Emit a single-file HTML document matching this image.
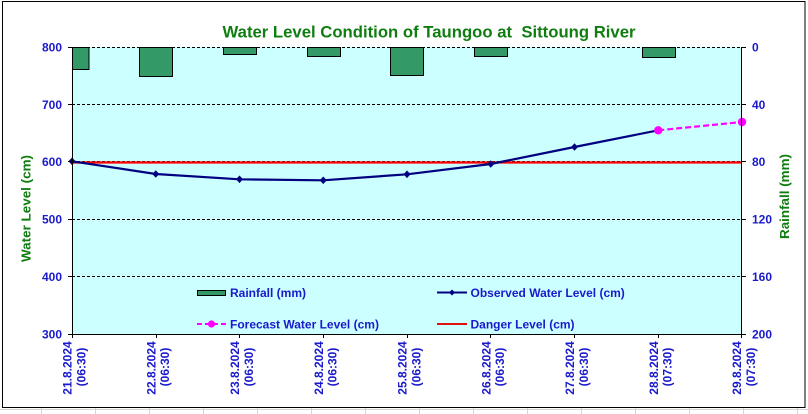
<!DOCTYPE html>
<html>
<head>
<meta charset="utf-8">
<style>
  html,body{margin:0;padding:0;background:#fff;}
  body{width:808px;height:414px;overflow:hidden;}
  svg{display:block;}
  text{font-family:"Liberation Sans",Arial,sans-serif;font-weight:bold;}
  .pre{white-space:pre;}
</style>
</head>
<body>
<svg width="808" height="414" viewBox="0 0 808 414" xmlns="http://www.w3.org/2000/svg">
  <!-- faint spreadsheet gridlines outside chart -->
  <g stroke="#d4d4d4" stroke-width="1">
    <line x1="0" y1="409.5" x2="808" y2="409.5"/>
    <line x1="41.5" y1="408" x2="41.5" y2="414"/>
    <line x1="95.5" y1="408" x2="95.5" y2="414"/>
    <line x1="149.5" y1="408" x2="149.5" y2="414"/>
    <line x1="203.5" y1="408" x2="203.5" y2="414"/>
    <line x1="257.5" y1="408" x2="257.5" y2="414"/>
    <line x1="311.5" y1="408" x2="311.5" y2="414"/>
    <line x1="365.5" y1="408" x2="365.5" y2="414"/>
    <line x1="419.5" y1="408" x2="419.5" y2="414"/>
    <line x1="473.5" y1="408" x2="473.5" y2="414"/>
    <line x1="527.5" y1="408" x2="527.5" y2="414"/>
    <line x1="581.5" y1="408" x2="581.5" y2="414"/>
    <line x1="635.5" y1="408" x2="635.5" y2="414"/>
    <line x1="689.5" y1="408" x2="689.5" y2="414"/>
    <line x1="743.5" y1="408" x2="743.5" y2="414"/>
    <line x1="797.5" y1="408" x2="797.5" y2="414"/>
  </g>

  <!-- chart border -->
  <rect x="2.5" y="1.5" width="802.5" height="406" fill="#fff" stroke="#000" stroke-width="1"/>

  <!-- title -->
  <text class="pre" xml:space="preserve" x="222.5" y="37.6" font-size="16.5" fill="#0f7d0f" textLength="413" lengthAdjust="spacingAndGlyphs">Water Level Condition of Taungoo at &#160;Sittoung River</text>

  <!-- plot area -->
  <rect x="72" y="47" width="670" height="287" fill="#ccffff"/>

  <!-- gridlines -->
  <g stroke="#000" stroke-width="1" stroke-dasharray="3,2">
    <line x1="72" y1="47.5" x2="742" y2="47.5"/>
    <line x1="72" y1="104.5" x2="742" y2="104.5"/>
    <line x1="72" y1="161.5" x2="742" y2="161.5"/>
    <line x1="72" y1="219.5" x2="742" y2="219.5"/>
    <line x1="72" y1="276.5" x2="742" y2="276.5"/>
  </g>

  <!-- rainfall bars -->
  <g fill="#339966" stroke="#000" stroke-width="1">
    <rect x="72.5" y="47.5" width="16.5" height="22"/>
    <rect x="139.5" y="47.5" width="33" height="29"/>
    <rect x="223.5" y="47.5" width="33" height="7"/>
    <rect x="307.5" y="47.5" width="33" height="9"/>
    <rect x="390.5" y="47.5" width="33" height="28"/>
    <rect x="474.5" y="47.5" width="33" height="9"/>
    <rect x="642.5" y="47.5" width="33" height="10"/>
  </g>

  <!-- danger level -->
  <line x1="72" y1="162.5" x2="742" y2="162.5" stroke="#ff0000" stroke-width="2.2"/>

  <!-- observed water level -->
  <polyline fill="none" stroke="#000080" stroke-width="2.2" stroke-linejoin="round"
    points="72,161.3 155.75,174 239.5,179.3 323.25,180.3 407,174.3 490.75,164 574.5,147 658.25,130.3"/>
  <g fill="#000080">
    <path d="M72,157.5 L75.5,161.3 L72,165.1 L68.5,161.3Z"/>
    <path d="M155.75,170.2 L159.25,174 L155.75,177.8 L152.25,174Z"/>
    <path d="M239.5,175.5 L243,179.3 L239.5,183.1 L236,179.3Z"/>
    <path d="M323.25,176.5 L326.75,180.3 L323.25,184.1 L319.75,180.3Z"/>
    <path d="M407,170.5 L410.5,174.3 L407,178.1 L403.5,174.3Z"/>
    <path d="M490.75,160.2 L494.25,164 L490.75,167.8 L487.25,164Z"/>
    <path d="M574.5,143.2 L578,147 L574.5,150.8 L571,147Z"/>
  </g>

  <!-- forecast -->
  <line x1="658.25" y1="130.3" x2="742" y2="122" stroke="#ff00ff" stroke-width="2.2" stroke-dasharray="6,3"/>
  <circle cx="658.25" cy="130.3" r="4.2" fill="#ff00ff"/>
  <circle cx="742" cy="122" r="4.2" fill="#ff00ff"/>

  <!-- axes -->
  <g stroke="#000" stroke-width="1">
    <line x1="72.5" y1="47" x2="72.5" y2="334.5"/>
    <line x1="741.5" y1="47" x2="741.5" y2="334.5"/>
    <line x1="72" y1="334.5" x2="742" y2="334.5"/>
    <line x1="68" y1="47.5" x2="72" y2="47.5"/>
    <line x1="68" y1="104.5" x2="72" y2="104.5"/>
    <line x1="68" y1="161.5" x2="72" y2="161.5"/>
    <line x1="68" y1="219.5" x2="72" y2="219.5"/>
    <line x1="68" y1="276.5" x2="72" y2="276.5"/>
    <line x1="68" y1="334.5" x2="72" y2="334.5"/>
    <line x1="742" y1="47.5" x2="746" y2="47.5"/>
    <line x1="742" y1="104.5" x2="746" y2="104.5"/>
    <line x1="742" y1="161.5" x2="746" y2="161.5"/>
    <line x1="742" y1="219.5" x2="746" y2="219.5"/>
    <line x1="742" y1="276.5" x2="746" y2="276.5"/>
    <line x1="742" y1="334.5" x2="746" y2="334.5"/>
    <line x1="72.5" y1="334" x2="72.5" y2="338"/>
    <line x1="156.5" y1="334" x2="156.5" y2="338"/>
    <line x1="239.5" y1="334" x2="239.5" y2="338"/>
    <line x1="323.5" y1="334" x2="323.5" y2="338"/>
    <line x1="407.5" y1="334" x2="407.5" y2="338"/>
    <line x1="490.5" y1="334" x2="490.5" y2="338"/>
    <line x1="574.5" y1="334" x2="574.5" y2="338"/>
    <line x1="658.5" y1="334" x2="658.5" y2="338"/>
    <line x1="741.5" y1="334" x2="741.5" y2="338"/>
  </g>

  <!-- left axis labels -->
  <g font-size="12" fill="#1a1acc" text-anchor="end">
    <text x="62" y="51.5">800</text>
    <text x="62" y="108.8">700</text>
    <text x="62" y="166.2">600</text>
    <text x="62" y="223.6">500</text>
    <text x="62" y="281">400</text>
    <text x="62" y="338.4">300</text>
  </g>
  <!-- right axis labels -->
  <g font-size="12" fill="#1a1acc" text-anchor="start">
    <text x="752" y="51.5">0</text>
    <text x="752" y="108.8">40</text>
    <text x="752" y="166.2">80</text>
    <text x="752" y="223.6">120</text>
    <text x="752" y="281">160</text>
    <text x="752" y="338.4">200</text>
  </g>

  <!-- axis titles -->
  <text transform="translate(30.5,208.5) rotate(-90)" text-anchor="middle" font-size="13" fill="#0f7d0f" textLength="107" lengthAdjust="spacingAndGlyphs">Water Level (cm)</text>
  <text transform="translate(789,196.5) rotate(-90)" text-anchor="middle" font-size="13" fill="#0f7d0f" textLength="85" lengthAdjust="spacingAndGlyphs">Rainfall (mm)</text>

  <!-- x labels -->
  <g font-size="12" fill="#1a1acc" text-anchor="middle">
    <text transform="translate(71.7,368) rotate(-90)">21.8.2024</text>
    <text transform="translate(85.5,367) rotate(-90)">(06:30)</text>
    <text transform="translate(155.4,368) rotate(-90)">22.8.2024</text>
    <text transform="translate(169.2,367) rotate(-90)">(06:30)</text>
    <text transform="translate(239.1,368) rotate(-90)">23.8.2024</text>
    <text transform="translate(252.9,367) rotate(-90)">(06:30)</text>
    <text transform="translate(322.9,368) rotate(-90)">24.8.2024</text>
    <text transform="translate(336.7,367) rotate(-90)">(06:30)</text>
    <text transform="translate(406.6,368) rotate(-90)">25.8.2024</text>
    <text transform="translate(420.4,367) rotate(-90)">(06:30)</text>
    <text transform="translate(490.4,368) rotate(-90)">26.8.2024</text>
    <text transform="translate(504.2,367) rotate(-90)">(06:30)</text>
    <text transform="translate(574.1,368) rotate(-90)">27.8.2024</text>
    <text transform="translate(587.9,367) rotate(-90)">(06:30)</text>
    <text transform="translate(657.9,368) rotate(-90)">28.8.2024</text>
    <text transform="translate(671.7,367) rotate(-90)">(07:30)</text>
    <text transform="translate(741.2,368) rotate(-90)">29.8.2024</text>
    <text transform="translate(755,367) rotate(-90)">(07:30)</text>
  </g>

  <!-- legend -->
  <rect x="197.5" y="290.5" width="28" height="5" fill="#339966" stroke="#000" stroke-width="1"/>
  <text x="230" y="297" font-size="12" fill="#1a1acc">Rainfall (mm)</text>

  <line x1="437" y1="292.5" x2="467" y2="292.5" stroke="#000080" stroke-width="2"/>
  <path d="M452,289.5 L455,292.5 L452,295.5 L449,292.5Z" fill="#000080"/>
  <text x="470.5" y="297" font-size="12" fill="#1a1acc">Observed Water Level (cm)</text>

  <line x1="197" y1="324" x2="226" y2="324" stroke="#ff00ff" stroke-width="2" stroke-dasharray="5,3"/>
  <circle cx="211.5" cy="324" r="3.6" fill="#ff00ff"/>
  <text x="230" y="328.5" font-size="12" fill="#1a1acc">Forecast Water Level (cm)</text>

  <line x1="437" y1="324" x2="467" y2="324" stroke="#e01010" stroke-width="2"/>
  <text x="470.5" y="328.5" font-size="12" fill="#1a1acc">Danger Level (cm)</text>
</svg>
</body>
</html>
